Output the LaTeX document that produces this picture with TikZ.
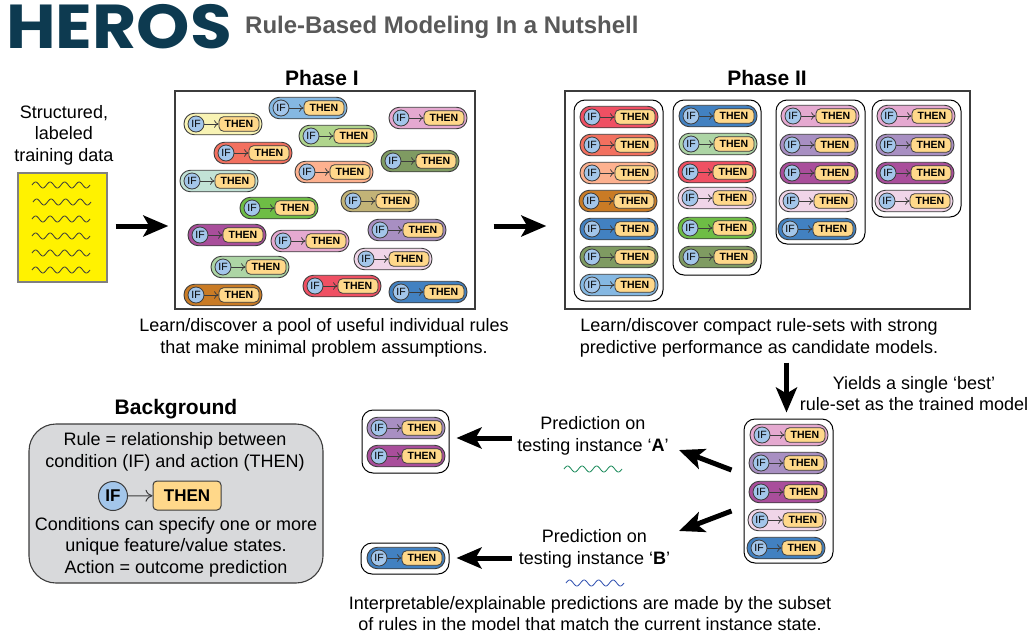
\documentclass[tikz,border=0pt]{standalone}
\usepackage{fontspec}
\setmainfont{Liberation Sans}
\newfontfamily\logofont{Poppins}
\usetikzlibrary{positioning}
\usetikzlibrary{arrows.meta}
\definecolor{logoteal}{HTML}{0D3A50}
\definecolor{subgray}{HTML}{595959}
\definecolor{edgegray}{HTML}{3C3C3C}
\definecolor{ifblue}{HTML}{A3C6EA}
\definecolor{thenorange}{HTML}{FFD88A}
\definecolor{bggray}{HTML}{D8D9DB}
\definecolor{skyc}{HTML}{85B8E2}
\definecolor{creamc}{HTML}{F8F3B4}
\definecolor{leafc}{HTML}{B0D58D}
\definecolor{pinkc}{HTML}{E5A9D0}
\definecolor{coralc}{HTML}{F2705F}
\definecolor{olivec}{HTML}{7F9B62}
\definecolor{peachc}{HTML}{FDB18F}
\definecolor{tealc}{HTML}{C2E2D6}
\definecolor{khakic}{HTML}{C2B377}
\definecolor{grassc}{HTML}{6EBD45}
\definecolor{lilacc}{HTML}{A88FC2}
\definecolor{plumc}{HTML}{A94E9B}
\definecolor{palec}{HTML}{F0D5E8}
\definecolor{mintc}{HTML}{ADD5A5}
\definecolor{redc}{HTML}{EF5063}
\definecolor{brownc}{HTML}{C97B25}
\definecolor{steelc}{HTML}{4281C1}
\definecolor{wavegreen}{HTML}{1A8A5A}
\definecolor{waveblue}{HTML}{3050B0}
\tikzset{
 pill/.style={draw=edgegray,line width=0.9pt,rounded corners=10.5pt,minimum width=78pt,minimum height=21.5pt,inner sep=0pt},
 ifdot/.style={circle,draw=edgegray,line width=0.8pt,fill=ifblue,minimum size=16pt,inner sep=0pt,font=\fontsize{10.5}{11}\selectfont},
 thenbox/.style={draw=edgegray,line width=0.8pt,fill=thenorange,rounded corners=4.5pt,minimum width=40pt,minimum height=14.5pt,inner sep=0pt,font=\fontsize{10.5}{11}\selectfont\bfseries},
 linkarrow/.style={draw=edgegray,line width=0.8pt,-{To[length=4.5pt,width=7.5pt]}},
 setbox/.style={draw=black,line width=1pt,fill=white,rounded corners=11pt,inner sep=0pt},
 panelbox/.style={draw=edgegray,line width=1.4pt,inner sep=0pt},
 bigarrow/.style={line width=5pt,-{Stealth[length=25pt,width=21pt,inset=6pt]}},
 wavy/.style={line width=0.8pt},
 bodytext/.style={align=center,inner sep=0pt,font=\fontsize{18}{21.5}\selectfont},
 headtext/.style={inner sep=0pt,font=\fontsize{21}{24}\selectfont\bfseries}
}
\newcommand{\rulepill}[3]{
 \node[pill,fill=#3] (#1) at (#2) {};
 \node[ifdot] (#1if) at ([xshift=-27pt]#1.center) {IF};
 \node[thenbox] (#1th) at ([xshift=16pt]#1.center) {THEN};
 \draw[linkarrow] (#1if) -- (#1th);
}
\newcommand{\wavyline}[3]{
 \draw[wavy,draw=#3] plot[domain=0:58,samples=70] ({#1+\x},{#2-3*sin(\x*24.83)});
}
\begin{document}
\begin{tikzpicture}[x=1pt,y=-1pt]
 \useasboundingbox (0,0) rectangle (1028,635);
 \node[inner sep=0pt,text=logoteal,font=\fontsize{62}{62}\logofont\bfseries,anchor=west,xscale=1.095] (logo) at (6,27) {HEROS};
 \node[inner sep=0pt,text=subgray,font=\fontsize{24}{26}\selectfont\bfseries,anchor=west] (subtitle) at (245,27) {Rule-Based Modeling In a Nutshell};

 \node[headtext] (phaseone) at (322,78) {Phase I};
 \node[headtext] (phasetwo) at (767,78) {Phase II};
 \node[bodytext] (datatext) at (64,135) {Structured,\\labeled\\training data};

 \node[draw=gray,line width=1.2pt,fill=yellow,minimum width=89pt,minimum height=109pt,inner sep=0pt] (data) at (62.5,227.5) {};
 \wavyline{32}{185}{edgegray}
 \wavyline{33}{202}{edgegray}
 \wavyline{32}{219}{edgegray}
 \wavyline{32}{236}{edgegray}
 \wavyline{32}{253}{edgegray}
 \wavyline{32}{270}{edgegray}

 \node[panelbox,minimum width=300pt,minimum height=218pt] (pool) at (325,200) {};
 \node[panelbox,minimum width=405pt,minimum height=218pt] (modelbox) at (767.5,200) {};
 \coordinate (midrow) at (0,226);
 \draw[bigarrow] ([xshift=8pt]data.east |- midrow) -- ([xshift=-6pt]pool.west |- midrow);
 \draw[bigarrow] ([xshift=18pt]pool.east |- midrow) -- ([xshift=-18pt]modelbox.west |- midrow);

 \rulepill{pa}{308,108}{skyc}
 \rulepill{pb}{223,124}{creamc}
 \rulepill{pc}{338,136}{leafc}
 \rulepill{pd}{428,118}{pinkc}
 \rulepill{pe}{253,153}{coralc}
 \rulepill{pf}{420,161}{olivec}
 \rulepill{pg}{334,172}{peachc}
 \rulepill{ph}{219,181}{tealc}
 \rulepill{pi}{380,201}{khakic}
 \rulepill{pj}{279,208}{grassc}
 \rulepill{pk}{407,230}{lilacc}
 \rulepill{pl}{227,235}{plumc}
 \rulepill{pm}{310,241}{pinkc}
 \rulepill{pn}{393,259}{palec}
 \rulepill{po}{250,267}{mintc}
 \rulepill{pq}{342,286}{redc}
 \rulepill{pr}{223,295}{brownc}
 \rulepill{ps}{428,292}{steelc}

 \node[setbox,minimum width=89pt,minimum height=201pt] (setone) at (618.5,200.5) {};
 \node[setbox,minimum width=88pt,minimum height=175pt] (settwo) at (717,187.5) {};
 \node[setbox,minimum width=89pt,minimum height=144pt] (setthree) at (820.5,172) {};
 \node[setbox,minimum width=89pt,minimum height=117pt] (setfour) at (916.5,158.5) {};

 \rulepill{aa}{619,117}{redc}
 \rulepill{ab}{619,145}{coralc}
 \rulepill{ac}{619,173}{peachc}
 \rulepill{ad}{618,201}{brownc}
 \rulepill{ae}{619,229}{steelc}
 \rulepill{af}{619,257}{olivec}
 \rulepill{ag}{619,285}{skyc}
 \rulepill{ba}{718,116}{steelc}
 \rulepill{bb}{718,144}{mintc}
 \rulepill{bc}{717,172}{redc}
 \rulepill{bd}{717,198}{palec}
 \rulepill{be}{717,228}{grassc}
 \rulepill{bf}{718,257}{olivec}
 \rulepill{ca}{820,116}{pinkc}
 \rulepill{cb}{819,145}{lilacc}
 \rulepill{cc}{819,173}{plumc}
 \rulepill{cd}{818,201}{palec}
 \rulepill{ce}{817,229}{steelc}
 \rulepill{da}{916,116}{pinkc}
 \rulepill{db}{915,145}{lilacc}
 \rulepill{dc}{915,173}{plumc}
 \rulepill{dd}{914,201}{palec}

 \node[bodytext] (pooltext) at (324,338) {Learn/discover a pool of useful individual rules\\that make minimal problem assumptions.};
 \node[bodytext] (modeltext) at (759,338) {Learn/discover compact rule-sets with strong\\predictive performance as candidate models.};
 \node[bodytext] (yieldtext) at (914,393.5) {Yields a single ‘best’\\rule-set as the trained model};

 \node[setbox,minimum width=89pt,minimum height=144pt] (bestset) at (788.5,491) {};
 \rulepill{ea}{789,435}{pinkc}
 \rulepill{eb}{788,463}{lilacc}
 \rulepill{ec}{788,492}{plumc}
 \rulepill{ed}{787,520}{palec}
 \rulepill{ee}{786,548}{steelc}
 \draw[bigarrow] ([xshift=-2pt,yshift=56pt]bestset.north) -- ([xshift=-2pt,yshift=6pt]bestset.north);

 \node[setbox,minimum width=87pt,minimum height=63pt] (seta) at (405.5,441.5) {};
 \rulepill{fa}{406,428}{lilacc}
 \rulepill{fb}{406,456}{plumc}
 \node[setbox,minimum width=88pt,minimum height=31pt] (setb) at (405,558.5) {};
 \rulepill{ga}{406,558}{steelc}

 \node[bodytext] (labela) at (593,436) {Prediction on\\testing instance ‘\textbf{A}’};
 \node[bodytext] (labelb) at (594.5,549) {Prediction on\\testing instance ‘\textbf{B}’};
 \wavyline{564}{469}{wavegreen}
 \wavyline{566}{583}{waveblue}

 \coordinate (tipa) at (679,450);
 \coordinate (tipb) at (679,531);
 \coordinate (froma) at (512,438);
 \coordinate (fromb) at (512,558);
 \draw[bigarrow] ([xshift=-12pt,yshift=21pt]bestset.west) -- (tipa);
 \draw[bigarrow] ([xshift=-12pt,yshift=-20pt]bestset.west) -- (tipb);
 \draw[bigarrow] (froma) -- ([xshift=7pt]seta.east |- froma);
 \draw[bigarrow] (fromb) -- ([xshift=7pt]setb.east |- fromb);

 \node[bodytext] (bottomtext) at (590,613.5) {Interpretable/explainable predictions are made by the subset\\of rules in the model that match the current instance state.};

 \node[headtext] (bghead) at (176,409) {Background};
 \node[draw=edgegray,line width=1.1pt,fill=bggray,rounded corners=27pt,minimum width=294pt,minimum height=159pt,inner sep=0pt] (bgbox) at (176,503.5) {};
 \node[bodytext] (bgtop) at (175,452) {Rule = relationship between\\condition (IF) and action (THEN)};
 \node[circle,draw=edgegray,line width=1pt,fill=ifblue,minimum size=29pt,inner sep=0pt,font=\fontsize{17}{18}\selectfont\bfseries] (bigif) at (113,496) {IF};
 \node[draw=edgegray,line width=1pt,fill=thenorange,rounded corners=4pt,minimum width=68pt,minimum height=29pt,inner sep=0pt,font=\fontsize{17}{18}\selectfont\bfseries] (bigthen) at (187,495.5) {THEN};
 \draw[draw=edgegray,line width=1pt,-{To[length=7pt,width=12pt]}] (bigif) -- (bigthen);
 \node[bodytext] (bgbottom) at (176,547) {Conditions can specify one or more\\unique feature/value states.\\Action = outcome prediction};
\end{tikzpicture}
\end{document}
